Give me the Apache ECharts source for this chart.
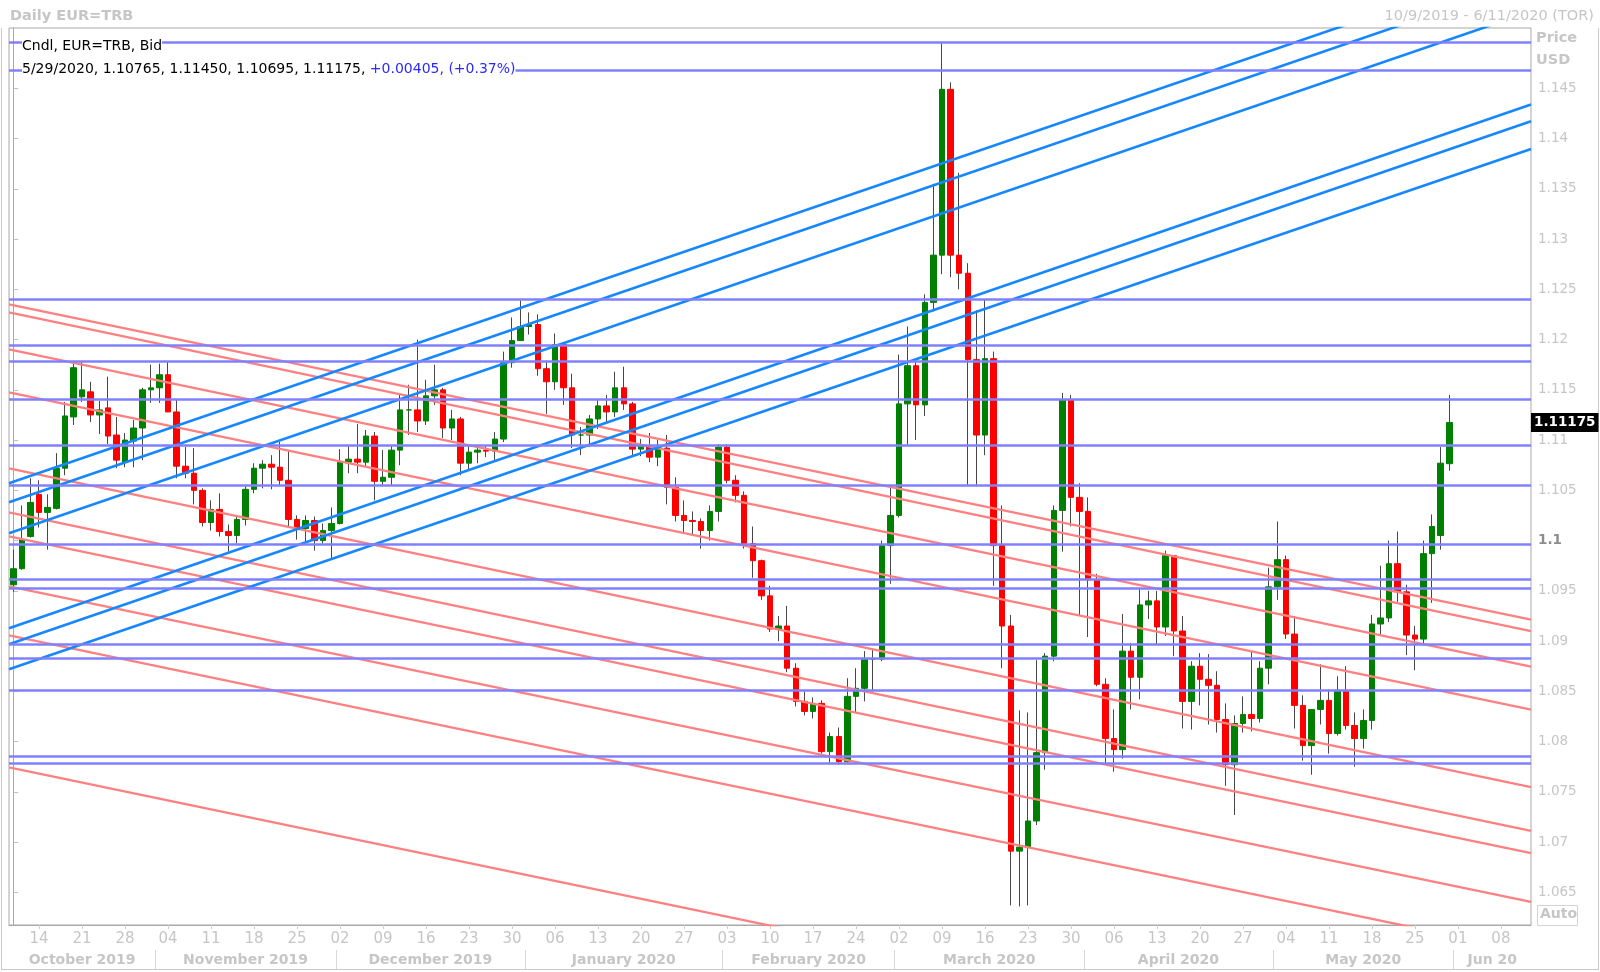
<!DOCTYPE html>
<html><head><meta charset="utf-8">
<script src="https://cdn.jsdelivr.net/npm/echarts@6/dist/echarts.min.js"></script>
<style>html,body{margin:0;padding:0;background:#fff;}#c{width:1600px;height:972px;}</style>
</head><body><div id="c"></div>
<script>
// ---- categories: trading days (weekdays) 10/9/2019 .. 6/11/2020 ----
const startDate = [2019, 9, 9], endDate = [2020, 5, 11];
const dates = [];
for (let d = new Date(Date.UTC(...startDate)); d <= new Date(Date.UTC(...endDate)); d.setUTCDate(d.getUTCDate() + 1)) {
  const wd = d.getUTCDay();
  if (wd === 0 || wd === 6) continue;
  dates.push(d.toISOString().slice(0, 10));
}
// ---- candle values (Oct 9 2019 .. May 29 2020) ----
const open = [1.0956,1.0972,1.1004,1.1046,1.1028,1.1032,1.1072,1.1123,1.1143,1.1148,1.1125,1.1132,1.1105,1.1078,1.1099,1.1112,1.1150,
1.1152,1.1165,1.1128,1.1074,1.1067,1.1050,1.1018,1.1031,1.1009,1.1005,1.1021,1.1051,1.1072,1.1076,1.1073,1.1060,1.1021,1.1012,1.1020,1.1000,1.1010,
1.1017,1.1078,1.1081,1.1078,1.1104,1.1059,1.1063,1.1090,1.1130,1.1130,1.1119,1.1144,1.1150,1.1112,1.1121,1.1077,1.1088,1.1090,1.1089,1.1101,1.1177,1.1199,
1.1213,1.1215,1.1171,1.1158,1.1195,1.1152,1.1105,1.1105,1.1121,1.1134,1.1128,1.1152,1.1136,1.1091,1.1094,1.1083,1.1092,1.1053,1.1025,1.1020,1.1019,1.1010,1.1029,
1.1093,1.1060,1.1045,1.0997,1.0980,1.0945,1.0912,1.0915,1.0873,1.0840,1.0830,1.0838,1.0790,1.0805,1.0780,1.0845,1.0853,1.0882,1.0882,1.0995,
1.1025,1.1136,1.1174,1.1135,1.1237,1.1284,1.1449,1.1284,1.1266,1.1180,1.1105,1.1181,1.0995,1.0915,1.0691,1.0695,1.0721,1.0789,1.0885,1.1030,1.1140,1.1043,
1.1029,1.0961,1.0857,1.0803,1.0792,1.0890,1.0864,1.0936,1.0940,1.0914,1.0985,1.0910,1.0840,1.0875,1.0862,1.0856,1.0822,1.0777,1.0818,1.0827,1.0823,1.0873,
1.0954,1.0981,1.0907,1.0836,1.0796,1.0832,1.0841,1.0808,1.0851,1.0816,1.0803,1.0821,1.0917,1.0923,1.0977,1.0949,1.0906,1.0902,1.0987,1.1005,1.10765];
const high = [1.0991,1.1035,1.1062,1.1060,1.1046,1.1087,1.1138,1.1177,1.1178,1.1158,1.1139,1.1163,1.1123,1.1107,1.1120,1.1152,1.1175,
1.1176,1.1178,1.1140,1.1093,1.1092,1.1052,1.1040,1.1047,1.1016,1.1025,1.1055,1.1077,1.1080,1.1085,1.1098,1.1089,1.1025,1.1025,1.1024,1.1017,1.1033,
1.1091,1.1094,1.1116,1.1110,1.1108,1.1090,1.1095,1.1145,1.1155,1.1200,1.1160,1.1175,1.1152,1.1130,1.1123,1.1094,1.1094,1.1095,1.1108,1.1188,1.1222,1.1239,
1.1227,1.1225,1.1179,1.1206,1.1197,1.1166,1.1113,1.1125,1.1141,1.1145,1.1168,1.1173,1.1138,1.1101,1.1107,1.1100,1.1105,1.1063,1.1040,1.1029,1.1022,1.1035,1.1096,
1.1096,1.1065,1.1049,1.1014,1.0981,1.0955,1.0925,1.0935,1.0878,1.0850,1.0844,1.0841,1.0809,1.0814,1.0863,1.0873,1.0890,1.0892,1.1000,1.1053,
1.1185,1.1213,1.1180,1.1245,1.1355,1.1495,1.1456,1.1366,1.1276,1.1229,1.1240,1.1188,1.1035,1.0926,1.0831,1.0829,1.0881,1.0888,1.1035,1.1147,1.1145,1.1057,
1.1043,1.0967,1.0863,1.0832,1.0927,1.0898,1.0952,1.0950,1.0950,1.0990,1.0985,1.0925,1.0880,1.0888,1.0887,1.0870,1.0838,1.0826,1.0845,1.0890,1.0880,1.0973,
1.1019,1.0985,1.0925,1.0846,1.0832,1.0877,1.0852,1.0865,1.0875,1.0829,1.0832,1.0926,1.0975,1.1000,1.1009,1.0956,1.0915,1.1000,1.1026,1.1093,1.11450];
const low = [1.0949,1.0971,1.1003,1.1013,1.0991,1.1031,1.1065,1.1115,1.1138,1.1118,1.1106,1.1096,1.1072,1.1073,1.1073,1.1080,1.1137,
1.1137,1.1128,1.1062,1.1062,1.1036,1.1014,1.1010,1.1004,1.0989,1.0997,1.1015,1.1047,1.1052,1.1051,1.1055,1.1014,1.1001,1.0999,1.0990,1.0997,1.0981,
1.1016,1.1067,1.1067,1.1074,1.1040,1.1055,1.1055,1.1075,1.1105,1.1108,1.1115,1.1135,1.1102,1.1100,1.1065,1.1070,1.1077,1.1083,1.1080,1.1098,1.1172,1.1199,
1.1205,1.1164,1.1126,1.1150,1.1135,1.1092,1.1085,1.1093,1.1111,1.1118,1.1123,1.1130,1.1083,1.1084,1.1078,1.1074,1.1036,1.1019,1.1008,1.1006,1.0992,1.1000,1.1019,
1.1057,1.1038,1.0992,1.0963,1.0941,1.0909,1.0900,1.0869,1.0835,1.0826,1.0823,1.0788,1.0779,1.0777,1.0779,1.0829,1.0840,1.0850,1.0880,1.0957,
1.1023,1.1095,1.1100,1.1124,1.1228,1.1265,1.1262,1.1250,1.1055,1.1054,1.1085,1.0955,1.0873,1.0637,1.0636,1.0637,1.0717,1.0772,1.0880,1.0989,1.1014,1.0925,
1.0904,1.0855,1.0778,1.0770,1.0783,1.0832,1.0842,1.0922,1.0897,1.0905,1.0885,1.0813,1.0812,1.0836,1.0817,1.0809,1.0756,1.0727,1.0809,1.0810,1.0819,1.0857,
1.0941,1.0902,1.0813,1.0781,1.0767,1.0817,1.0788,1.0806,1.0812,1.0775,1.0793,1.0812,1.0905,1.0919,1.0939,1.0886,1.0871,1.0898,1.0938,1.0991,1.10695];
const close = [1.0972,1.1001,1.1038,1.1028,1.1033,1.1072,1.1124,1.1172,1.1150,1.1125,1.1130,1.1104,1.1080,1.1100,1.1112,1.1150,1.1152,
1.1165,1.1128,1.1074,1.1067,1.1050,1.1018,1.1031,1.1009,1.1005,1.1021,1.1051,1.1072,1.1076,1.1073,1.1060,1.1021,1.1012,1.1020,1.1000,1.1010,1.1017,
1.1078,1.1081,1.1078,1.1104,1.1059,1.1063,1.1090,1.1130,1.1130,1.1119,1.1144,1.1150,1.1112,1.1121,1.1077,1.1088,1.1090,1.1089,1.1101,1.1177,1.1199,1.1213,
1.1215,1.1171,1.1158,1.1195,1.1152,1.1105,1.1105,1.1121,1.1134,1.1128,1.1152,1.1136,1.1091,1.1094,1.1083,1.1092,1.1053,1.1025,1.1020,1.1019,1.1010,1.1029,1.1093,
1.1060,1.1045,1.0997,1.0980,1.0945,1.0912,1.0915,1.0873,1.0840,1.0830,1.0838,1.0790,1.0805,1.0780,1.0845,1.0853,1.0882,1.0882,1.0995,1.1025,
1.1136,1.1174,1.1135,1.1237,1.1284,1.1449,1.1284,1.1266,1.1180,1.1105,1.1181,1.0995,1.0915,1.0691,1.0695,1.0721,1.0789,1.0885,1.1030,1.1140,1.1043,1.1029,
1.0961,1.0857,1.0803,1.0792,1.0890,1.0864,1.0936,1.0940,1.0914,1.0985,1.0910,1.0840,1.0875,1.0862,1.0856,1.0822,1.0777,1.0818,1.0827,1.0823,1.0873,1.0954,
1.0981,1.0907,1.0836,1.0796,1.0832,1.0841,1.0808,1.0851,1.0816,1.0803,1.0821,1.0917,1.0923,1.0977,1.0949,1.0906,1.0902,1.0987,1.1014,1.1077,1.11175];
// ---- drawn levels ----
const hLevels = [1.14957,1.14683,1.12399,1.11941,1.11789,1.11406,1.10950,1.10549,1.09966,1.09617,1.09528,1.08971,1.08834,1.08512,1.07858,1.07782];
// sloped lines: price at the left edge and at the right edge of the plot
const lineX = [-0.5, 176.5];
const redLines = [[1.12351,1.09213],[1.12271,1.09099],[1.11903,1.08746],[1.11475,1.08317],[1.10719,1.07546],
                  [1.10281,1.07112],[1.10042,1.06889],[1.09545,1.06404],[1.09057,1.05907],[1.07744,1.04594]];
const blueLines = [[1.10570,1.15762],[1.10381,1.15573],[1.10072,1.15264],[1.09127,1.14338],[1.08968,1.14172],[1.08719,1.13897]];
// ---- axis ticks / labels ----
const yTicks = [1.065,1.07,1.075,1.08,1.085,1.09,1.095,1.1,1.105,1.11,1.115,1.12,1.125,1.13,1.135,1.14,1.145];
const monthLabels = ['October 2019','November 2019','December 2019','January 2020','February 2020','March 2020','April 2020','May 2020','Jun 20'];

const FONT = 'DejaVu Sans';
const GREY = '#c6c6c6';
const n = close.length;
const isMonday = i => new Date(dates[i] + 'T00:00:00Z').getUTCDay() === 1;

// month spans
const monthStarts = [0];
for (let i = 1; i < dates.length; i++) if (dates[i].slice(5, 7) !== dates[i - 1].slice(5, 7)) monthStarts.push(i);
const monthSeps = monthStarts.slice(1).map(i => i - 0.5);
const monthMids = monthStarts.map((s, k) => ((s + (k + 1 < monthStarts.length ? monthStarts[k + 1] - 1 : dates.length - 1)) / 2));
const midName = {};
monthMids.forEach((m, k) => { midName[m.toFixed(1)] = monthLabels[k]; });

const wickData = close.map((c, i) => [open[i], c, low[i], high[i]]);
const bodyData = close.map((c, i) => [open[i], c, Math.min(open[i], c), Math.max(open[i], c)]);

const lineSeries = [];
redLines.forEach(l => lineSeries.push({type:'line', xAxisIndex:1, yAxisIndex:0, data:[[lineX[0], l[0]],[lineX[1], l[1]]],
  showSymbol:false, symbol:'none', silent:true, clip:true, z:4, lineStyle:{color:'#ff8080', width:2.3}}));
blueLines.forEach(l => lineSeries.push({type:'line', xAxisIndex:1, yAxisIndex:0, data:[[lineX[0], l[0]],[lineX[1], l[1]]],
  showSymbol:false, symbol:'none', silent:true, clip:true, z:4, lineStyle:{color:'#1787ff', width:2.6}}));

const last = n - 1;
const chg = close[last] - close[last - 1];
const pct = chg / close[last - 1] * 100;
const ld = dates[last].split('-');
const lastDateStr = (+ld[1]) + '/' + (+ld[2]) + '/' + ld[0];
const fmt5 = v => v.toFixed(5);
const sign = v => (v >= 0 ? '+' : '');
const legendLine2a = `${lastDateStr}, ${fmt5(open[last])}, ${fmt5(high[last])}, ${fmt5(low[last])}, ${fmt5(close[last])}, `;
const legendLine2b = `${sign(chg)}${fmt5(chg)}, (${sign(pct)}${pct.toFixed(2)}%)`;

const chart = echarts.init(document.getElementById('c'), null, {renderer:'canvas'});
chart.setOption({
  animation:false,
  backgroundColor:'#fff',
  grid:{left:9, top:28, right:69, bottom:47, show:true, borderColor:'#a8a8a8', borderWidth:1, backgroundColor:'transparent'},
  xAxis:[
    {type:'category', data:dates, boundaryGap:true, gridIndex:0,
      axisLine:{show:true, lineStyle:{color:'#a8a8a8'}},
      axisTick:{show:true, interval:(i)=>isMonday(i), alignWithLabel:true, length:4, lineStyle:{color:'#cfcfcf'}},
      axisLabel:{interval:(i)=>isMonday(i), formatter:v=>v.slice(8,10), color:GREY, fontSize:15, fontFamily:FONT, margin:7},
      splitLine:{show:false}},
    {type:'value', min:lineX[0], max:lineX[1], gridIndex:0, position:'bottom', offset:25,
      axisLine:{show:false},
      axisTick:{show:true, customValues:monthSeps, length:19, lineStyle:{color:'#d8d8d8'}},
      axisLabel:{show:true, customValues:monthMids, formatter:v=>midName[(+v).toFixed(1)]||'', color:GREY, fontWeight:'bold', fontSize:14, fontFamily:FONT, margin:3},
      splitLine:{show:false}}
  ],
  yAxis:[{type:'value', position:'right', min:1.06175, max:1.151, scale:true,
    axisLine:{show:true, lineStyle:{color:'#a8a8a8'}},
    axisTick:{show:true, customValues:yTicks, length:5, lineStyle:{color:'#c0c0c0'}},
    axisLabel:{show:true, customValues:yTicks, margin:7, color:GREY, fontSize:13.5, fontFamily:FONT,
      formatter:v=>{const s=String(+(+v).toFixed(3)); return Math.abs(v-1.1)<1e-9 ? '{b|'+s+'}' : s;},
      rich:{b:{fontWeight:'bold', color:'#8c8c8c', fontSize:13.5, fontFamily:FONT}}},
    splitLine:{show:false}}],
  series:[
    {type:'candlestick', name:'wick', xAxisIndex:0, yAxisIndex:0, data:wickData, barWidth:1, silent:true, z:2,
      itemStyle:{color:'#474747', color0:'#474747', borderColor:'#474747', borderColor0:'#474747', borderWidth:1}},
    {type:'candlestick', name:'body', xAxisIndex:0, yAxisIndex:0, data:bodyData, barWidth:6, silent:true, z:3,
      itemStyle:{color:'#008000', color0:'#ff0000', borderColor:'#008000', borderColor0:'#ff0000', borderWidth:1}},
    {type:'line', name:'levels', xAxisIndex:0, yAxisIndex:0, data:[], silent:true, z:5,
      markLine:{silent:true, symbol:'none', animation:false, precision:6,
        lineStyle:{color:'#8080ff', width:2.5, type:'solid'}, label:{show:false},
        data:hLevels.map(v=>({yAxis:v}))}},
    {type:'line', name:'last', xAxisIndex:0, yAxisIndex:0, data:[], silent:true, z:6,
      markLine:{silent:true, symbol:'none', animation:false, precision:6,
        lineStyle:{color:'rgba(0,0,0,0)', width:0},
        label:{show:true, position:'end', distance:0, formatter:()=>close[last].toFixed(5), backgroundColor:'#000', color:'#fff',
          fontWeight:'bold', fontSize:13.5, fontFamily:FONT, padding:[3,3,2,3]},
        data:[{yAxis:close[last]}]}},
    ...lineSeries
  ],
  graphic:[
    {type:'text', left:10, top:9, style:{text:'Daily EUR=TRB', fill:GREY, font:'bold 14.5px "DejaVu Sans"'}},
    {type:'text', right:6, top:9, style:{text:'10/9/2019 - 6/11/2020 (TOR)', fill:GREY, font:'14.5px "DejaVu Sans"'}},
    {type:'text', left:1536, top:31, style:{text:'Price', fill:GREY, font:'bold 14.5px "DejaVu Sans"'}},
    {type:'text', left:1536, top:53, style:{text:'USD', fill:GREY, font:'bold 14.5px "DejaVu Sans"'}},
    {type:'rect', left:1537, top:905, shape:{width:40, height:20}, style:{fill:'#fff', stroke:'#d4d4d4', lineWidth:1}},
    {type:'text', left:1540, top:907, style:{text:'Auto', fill:GREY, font:'bold 14px "DejaVu Sans"'}},
    {type:'text', left:22, top:38, z:10, style:{text:'Cndl, EUR=TRB, Bid', fill:'#000', font:'14px "DejaVu Sans"', backgroundColor:'#fff', padding:[1,0,1,0]}},
    {type:'text', left:22, top:61, z:10, style:{
      text:'{a|'+legendLine2a+'}{b|'+legendLine2b+'}', backgroundColor:'#fff', padding:[1,0,1,0],
      rich:{a:{fill:'#000', font:'14px "DejaVu Sans"'}, b:{fill:'#2a2aff', font:'14px "DejaVu Sans"'}}}},
    {type:'line', shape:{x1:1.5, y1:28, x2:1.5, y2:970}, style:{stroke:'#c8c8c8', lineWidth:1}},
    {type:'line', shape:{x1:1, y1:969.5, x2:1599, y2:969.5}, style:{stroke:'#c8c8c8', lineWidth:1}},
    {type:'line', shape:{x1:1598.5, y1:28, x2:1598.5, y2:970}, style:{stroke:'#c8c8c8', lineWidth:1}}
  ]
});
</script></body></html>
